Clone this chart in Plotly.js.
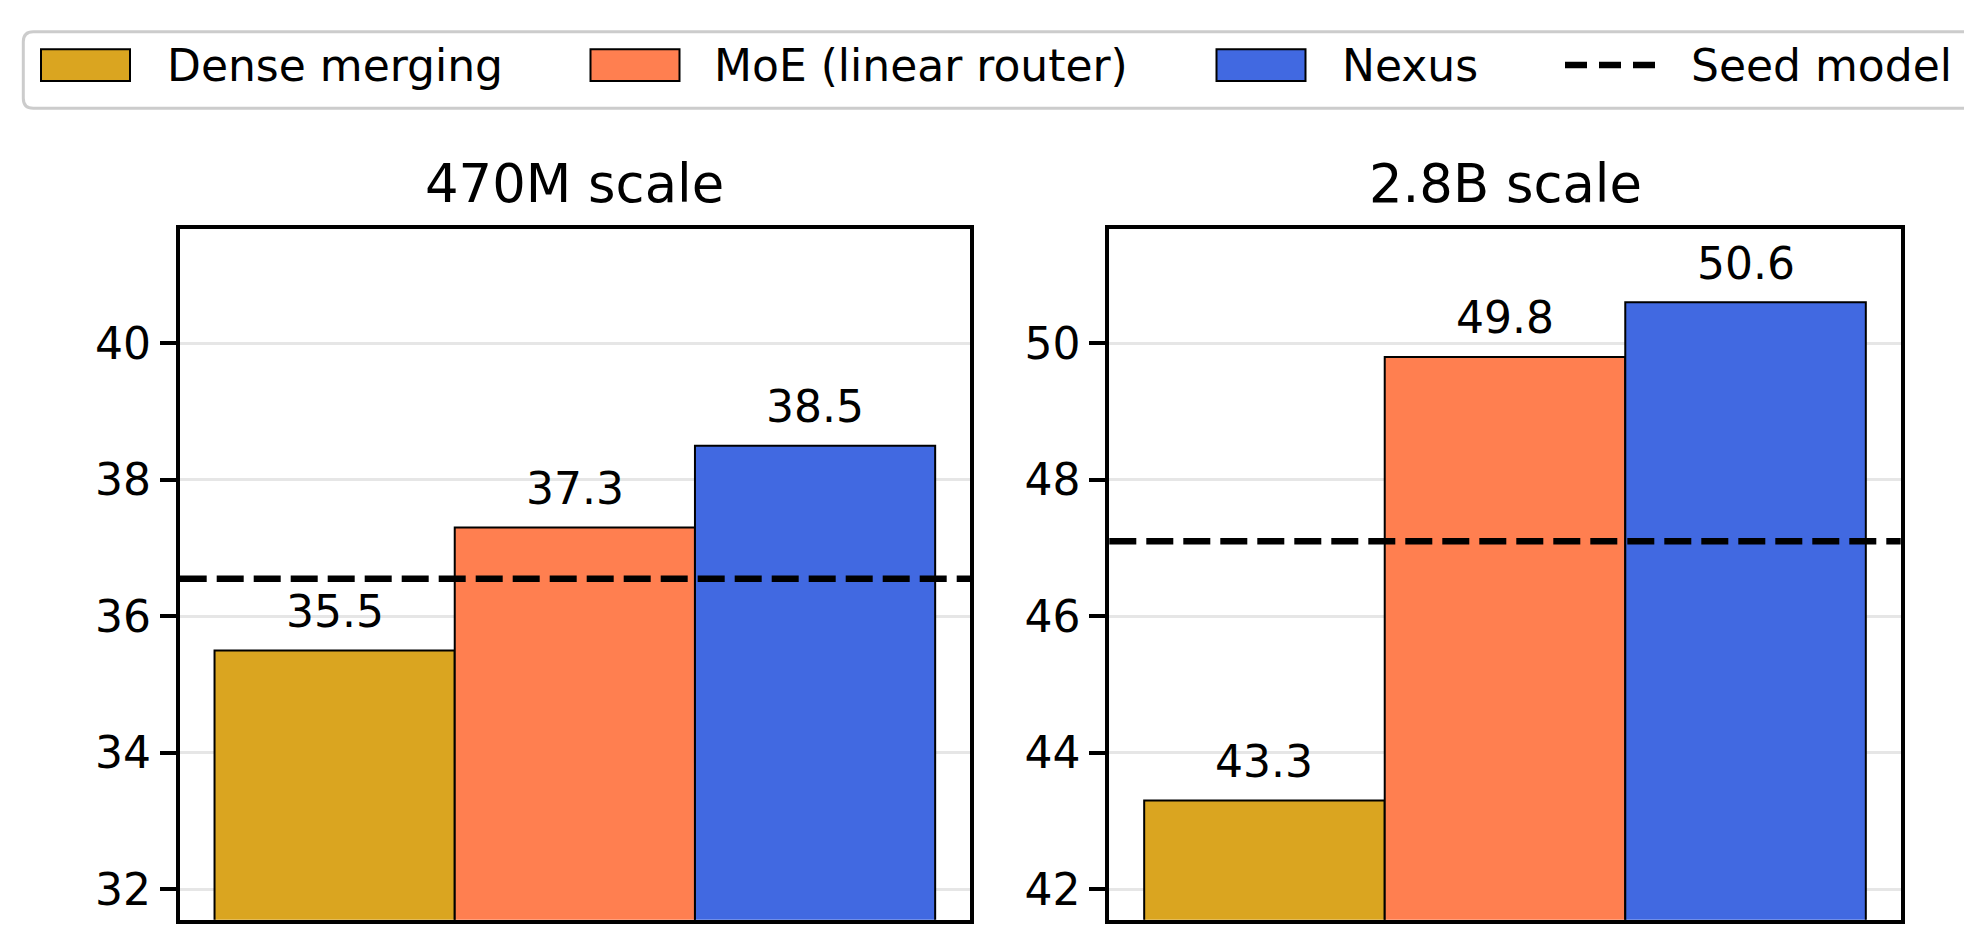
<!DOCTYPE html>
<html>
<head>
<meta charset="utf-8">
<script src="https://cdn.plot.ly/plotly-3.0.1.min.js"></script>
<style>
  html, body { margin: 0; padding: 0; background: #ffffff; }
  #chart { width: 1964px; height: 927px; }
</style>
</head>
<body>
<div id="chart"></div>
<script>
// ---------------- data ----------------
const methods = ["Dense merging", "MoE (linear router)", "Nexus"];
const panelTitles = ["470M scale", "2.8B scale"];
const scores470M = [35.5, 37.3, 38.5];
const scores2_8B = [43.3, 49.8, 50.6];
const seedScores = [36.55, 47.1];
const seedLabel = "Seed model";
const yTicks470M = [32, 34, 36, 38, 40];
const yTicks2_8B = [42, 44, 46, 48, 50];

// ---------------- styling ----------------
const barColors = ["#DAA520", "#FF7F50", "#4169E1"];
const FONT = "DejaVu Sans, Liberation Sans, sans-serif";
const FS = 44;          // base font size (ticks, labels, legend)
const FS_TITLE = 52.8;  // panel titles
const W = 1964, H = 927;
const px = x => x / W;
const py = y => 1 - y / H;

const panelScores = [scores470M, scores2_8B];
const panelTicks = [yTicks470M, yTicks2_8B];
const yRanges = [[31.555, 41.679], [41.555, 51.679]];
const xRange = [-0.645, 2.645];
const xDomains = [[px(179.7), px(970)], [px(1109.3), px(1900.7)]];
const yDomain = [py(919.7), py(228.7)];

const traces = [];
const annotations = [];
const shapes = [];
const layout = {
  width: W, height: H,
  margin: {l: 0, r: 0, t: 0, b: 0, pad: 0},
  paper_bgcolor: "#ffffff",
  plot_bgcolor: "#ffffff",
  showlegend: false,
  bargap: 0,
  font: {family: FONT, color: "#000000"}
};

panelScores.forEach((vals, k) => {
  const xa = k === 0 ? "x" : "x2";
  const ya = k === 0 ? "y" : "y2";
  traces.push({
    type: "bar",
    x: methods,
    y: vals,
    width: 1,
    xaxis: xa, yaxis: ya,
    marker: {color: barColors, line: {color: "#000000", width: 2}},
    hoverinfo: "x+y"
  });
  layout[k === 0 ? "xaxis" : "xaxis2"] = {
    domain: xDomains[k], anchor: ya,
    type: "category", range: xRange,
    showticklabels: false, ticks: "", showgrid: false, zeroline: false,
    showline: true, mirror: true, linecolor: "#000000", linewidth: 4,
    fixedrange: true
  };
  layout[k === 0 ? "yaxis" : "yaxis2"] = {
    domain: yDomain, anchor: xa,
    range: yRanges[k],
    tickmode: "array", tickvals: panelTicks[k], ticktext: panelTicks[k].map(String),
    ticks: "outside", ticklen: 16, tickwidth: 4, tickcolor: "#000000",
    tickfont: {family: FONT, size: FS, color: "#000000"},
    showgrid: true, gridcolor: "#e6e6e6", gridwidth: 3,
    zeroline: false,
    showline: true, mirror: true, linecolor: "#000000", linewidth: 4,
    fixedrange: true
  };
  // value labels above bars
  vals.forEach((v, j) => {
    annotations.push({
      x: methods[j], y: v, xref: xa, yref: ya,
      text: v.toFixed(1), showarrow: false,
      xanchor: "center", yanchor: "bottom", yshift: 12.5, borderpad: 0,
      font: {family: FONT, size: FS, color: "#000000"}
    });
  });
  // seed model reference line
  shapes.push({
    type: "line", xref: xa + " domain", yref: ya,
    x0: 0, x1: 1, y0: seedScores[k], y1: seedScores[k],
    line: {color: "#000000", width: 6.5, dash: "27px,10px"},
    layer: "above"
  });
  // panel title
  annotations.push({
    text: panelTitles[k], xref: xa + " domain", yref: "paper",
    x: 0.5, y: py(215), xanchor: "center", yanchor: "bottom",
    showarrow: false, borderpad: 0,
    font: {family: FONT, size: FS_TITLE, color: "#000000"}
  });
});

// ---------------- legend (drawn manually to match the large handles) ----------------
(function () {
  const x0 = 23.3, x1 = 1990, y0 = 31.7, y1 = 108.3, r = 10;
  const P = (x, y) => px(x) + "," + py(y);
  const path = "M" + P(x0 + r, y0) + " L" + P(x1 - r, y0) + " Q" + P(x1, y0) + " " + P(x1, y0 + r) +
    " L" + P(x1, y1 - r) + " Q" + P(x1, y1) + " " + P(x1 - r, y1) +
    " L" + P(x0 + r, y1) + " Q" + P(x0, y1) + " " + P(x0, y1 - r) +
    " L" + P(x0, y0 + r) + " Q" + P(x0, y0) + " " + P(x0 + r, y0) + " Z";
  shapes.push({
    type: "path", xref: "paper", yref: "paper", path: path,
    fillcolor: "rgba(255,255,255,0.8)", line: {color: "#cccccc", width: 3}, layer: "above"
  });
  const patchX = [41, 590.5, 1216.5];
  const textX = [166, 713, 1341];
  const patchW = 89, pTop = 49.3, pBot = 81, midY = 65.5;
  methods.forEach((m, i) => {
    shapes.push({
      type: "rect", xref: "paper", yref: "paper",
      x0: px(patchX[i]), x1: px(patchX[i] + patchW), y0: py(pBot), y1: py(pTop),
      fillcolor: barColors[i], line: {color: "#000000", width: 2}, layer: "above"
    });
    annotations.push({
      text: m, xref: "paper", yref: "paper", x: px(textX[i]), y: py(midY),
      xanchor: "left", yanchor: "middle", showarrow: false, borderpad: 0,
      font: {family: FONT, size: FS, color: "#000000"}
    });
  });
  shapes.push({
    type: "line", xref: "paper", yref: "paper",
    x0: px(1565), x1: px(1655), y0: py(65), y1: py(65),
    line: {color: "#000000", width: 6.5, dash: "22px,12px"}, layer: "above"
  });
  annotations.push({
    text: seedLabel, xref: "paper", yref: "paper", x: px(1689.5), y: py(midY),
    xanchor: "left", yanchor: "middle", showarrow: false, borderpad: 0,
    font: {family: FONT, size: FS, color: "#000000"}
  });
})();

layout.annotations = annotations;
layout.shapes = shapes;

Plotly.newPlot("chart", traces, layout, {displayModeBar: false, staticPlot: true});
</script>
</body>
</html>
